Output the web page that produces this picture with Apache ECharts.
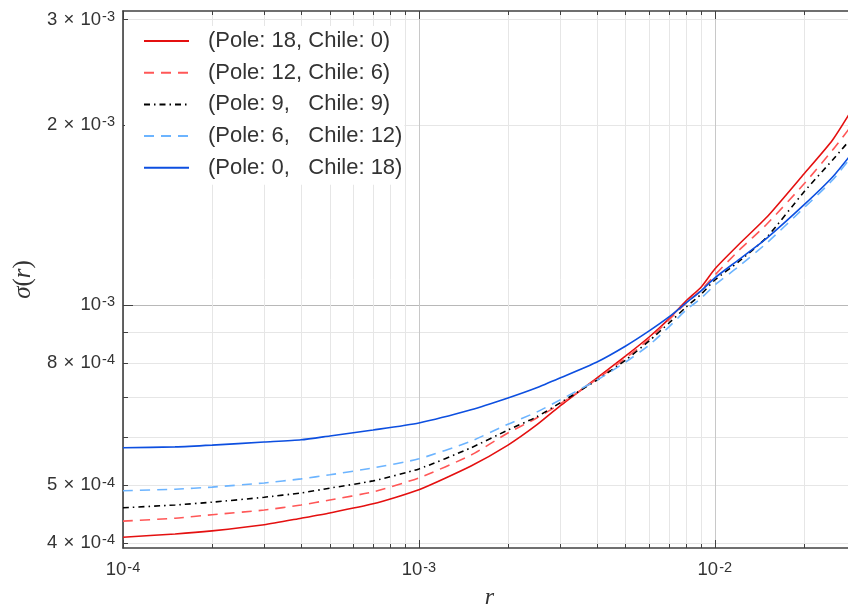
<!DOCTYPE html>
<html><head><meta charset="utf-8">
<script src="https://cdn.jsdelivr.net/npm/echarts@6/dist/echarts.min.js"></script>
<style>html,body{margin:0;padding:0;background:#fff}#c{width:848px;height:608px}</style>
</head><body><div id="c"></div>
<script>
// ---- data ----
const rValues = [1e-4, 1.5e-4, 2e-4, 3e-4, 4e-4, 5e-4, 7e-4, 1e-3, 1.5e-3, 2e-3, 2.5e-3, 3e-3,
  4e-3, 5e-3, 6e-3, 7e-3, 8e-3, 9e-3, 1e-2, 1.2e-2, 1.5e-2, 2e-2, 2.5e-2, 3e-2];
const sigmaPole18 = [4.09e-4, 4.14e-4, 4.19e-4, 4.29e-4, 4.40e-4, 4.49e-4, 4.65e-4, 4.91e-4, 5.38e-4, 5.83e-4, 6.30e-4, 6.78e-4,
  7.55e-4, 8.22e-4, 8.84e-4, 9.48e-4, 1.016e-3, 1.072e-3, 1.149e-3, 1.260e-3, 1.403e-3, 1.656e-3, 1.888e-3, 2.177e-3];
const sigmaPole12 = [4.35e-4, 4.40e-4, 4.46e-4, 4.54e-4, 4.63e-4, 4.72e-4, 4.87e-4, 5.14e-4, 5.61e-4, 6.11e-4, 6.47e-4, 6.83e-4,
  7.52e-4, 8.15e-4, 8.77e-4, 9.44e-4, 1.008e-3, 1.059e-3, 1.122e-3, 1.231e-3, 1.366e-3, 1.593e-3, 1.816e-3, 2.039e-3];
const sigmaPole9 = [4.58e-4, 4.63e-4, 4.68e-4, 4.77e-4, 4.85e-4, 4.94e-4, 5.08e-4, 5.32e-4, 5.77e-4, 6.18e-4, 6.50e-4, 6.86e-4,
  7.49e-4, 8.09e-4, 8.71e-4, 9.33e-4, 9.92e-4, 1.043e-3, 1.101e-3, 1.180e-3, 1.299e-3, 1.545e-3, 1.748e-3, 1.939e-3];
const sigmaPole6 = [4.89e-4, 4.92e-4, 4.96e-4, 5.04e-4, 5.12e-4, 5.20e-4, 5.34e-4, 5.53e-4, 5.92e-4, 6.32e-4, 6.62e-4, 6.94e-4,
  7.49e-4, 8.03e-4, 8.57e-4, 9.19e-4, 9.81e-4, 1.027e-3, 1.080e-3, 1.158e-3, 1.270e-3, 1.453e-3, 1.618e-3, 1.809e-3];
const sigmaPole0 = [5.77e-4, 5.79e-4, 5.83e-4, 5.90e-4, 5.95e-4, 6.04e-4, 6.18e-4, 6.35e-4, 6.68e-4, 6.99e-4, 7.27e-4, 7.55e-4,
  8.03e-4, 8.54e-4, 9.05e-4, 9.55e-4, 1.008e-3, 1.057e-3, 1.110e-3, 1.189e-3, 1.294e-3, 1.470e-3, 1.637e-3, 1.830e-3];
const seriesNames = ['(Pole: 18, Chile: 0)', '(Pole: 12, Chile: 6)', '(Pole: 9,   Chile: 9)', '(Pole: 6,   Chile: 12)', '(Pole: 0,   Chile: 18)'];

// ---- ticks ----
const xTickMinor = [1e-4, 2e-4, 3e-4, 4e-4, 5e-4, 6e-4, 7e-4, 8e-4, 9e-4, 1e-3, 2e-3, 3e-3, 4e-3, 5e-3, 6e-3, 7e-3, 8e-3, 9e-3, 1e-2, 2e-2, 3e-2];
const xTickMajor = [1e-4, 1e-3, 1e-2];
const xLabelValues = [1e-4, 1e-3, 1e-2];
const xLabelMantissa = ['10', '10', '10'];
const xLabelExp = ['-4', '-3', '-2'];
const yTickMinor = [4e-4, 5e-4, 6e-4, 7e-4, 8e-4, 9e-4, 1e-3, 2e-3, 3e-3];
const yTickMajor = [1e-3];
const yLabelValues = [4e-4, 5e-4, 8e-4, 1e-3, 2e-3, 3e-3];
const yLabelMantissa = ['4\u2004\u00d7\u200410', '5\u2004\u00d7\u200410', '8\u2004\u00d7\u200410', '10', '2\u2004\u00d7\u200410', '3\u2004\u00d7\u200410'];
const yLabelExp = ['-4', '-4', '-4', '-3', '-3', '-3'];

const FONT = 'Liberation Sans';
const SERIF = 'Liberation Serif';
const AXC = '#404040';

function labelFmt(values, mant, exps) {
  return function (v) {
    let best = 0, bd = Infinity;
    values.forEach((t, i) => { const d = Math.abs(Math.log10(v) - Math.log10(t)); if (d < bd) { bd = d; best = i; } });
    return '{a|' + mant[best] + '}{b|' + exps[best] + '}';
  };
}
const labelRich = {
  a: { fontFamily: FONT, fontSize: 18.5, color: '#333', lineHeight: 20 },
  b: { fontFamily: FONT, fontSize: 14.5, color: '#333', verticalAlign: 'top', lineHeight: 13, padding: [0, 0, 0, 1] }
};

const xMin = 1e-4, xMax = 3e-2, yMin = 3.923e-4, yMax = 3.102e-3;
function xAx(pos, ticks, len, opts) {
  return Object.assign({
    type: 'log', logBase: 10, min: xMin, max: xMax, position: pos,
    axisLine: { show: false, onZero: false },
    axisTick: { show: true, inside: true, length: len, customValues: ticks, lineStyle: { color: AXC, width: 1 } },
    axisLabel: { show: false },
    splitLine: { show: false },
    minorTick: { show: false }, minorSplitLine: { show: false }
  }, opts || {});
}
function yAx(pos, ticks, len, opts) {
  return Object.assign({
    type: 'log', logBase: 10, min: yMin, max: yMax, position: pos,
    axisLine: { show: false, onZero: false },
    axisTick: { show: true, inside: true, length: len, customValues: ticks, lineStyle: { color: AXC, width: 1 } },
    axisLabel: { show: false },
    splitLine: { show: false },
    minorTick: { show: false }, minorSplitLine: { show: false }
  }, opts || {});
}

const chart = echarts.init(document.getElementById('c'), null, { renderer: 'canvas' });
const colors = ['#e41010', '#ff5757', '#000000', '#6cb4ff', '#0d4fe0'];
const dashes = ['solid', [10, 7], [6, 4, 1.5, 4], [10, 7], 'solid'];
const dataSets = [sigmaPole18, sigmaPole12, sigmaPole9, sigmaPole6, sigmaPole0];

chart.setOption({
  animation: false,
  backgroundColor: '#fff',
  grid: { left: 123, top: 11, right: -8, bottom: 60, outerBoundsMode: 'none' },
  xAxis: [
    xAx('bottom', xTickMinor, 4, {
      axisLine: { show: true, onZero: false, lineStyle: { color: AXC, width: 1.6 } },
      axisLabel: { show: true, customValues: xLabelValues, margin: 12, formatter: labelFmt(xLabelValues, xLabelMantissa, xLabelExp), rich: labelRich },
      splitLine: { show: true, lineStyle: { color: '#e6e6e6', width: 1 } },
      name: '{i|r}', nameLocation: 'middle', nameGap: 38,
      nameTextStyle: { rich: { i: { fontFamily: SERIF, fontStyle: 'italic', fontSize: 24, color: '#333' } } }
    }),
    xAx('bottom', xTickMajor, 8, { splitLine: { show: true, lineStyle: { color: '#c8c8c8', width: 1 } } }),
    xAx('top', xTickMinor, 4, { axisLine: { show: true, onZero: false, lineStyle: { color: AXC, width: 1.6 } } }),
    xAx('top', xTickMajor, 8)
  ],
  yAxis: [
    yAx('left', yTickMinor, 5, {
      axisLine: { show: true, onZero: false, lineStyle: { color: AXC, width: 1.6 } },
      axisLabel: { show: true, customValues: yLabelValues, margin: 8, formatter: labelFmt(yLabelValues, yLabelMantissa, yLabelExp), rich: labelRich },
      splitLine: { show: true, lineStyle: { color: '#e6e6e6', width: 1 } },
      name: '{i|\u03c3}{n|(}{i|r}{n|)}', nameLocation: 'middle', nameGap: 86, nameRotate: 90,
      nameTextStyle: { rich: {
        i: { fontFamily: SERIF, fontStyle: 'italic', fontSize: 25, color: '#333' },
        n: { fontFamily: SERIF, fontSize: 25, color: '#333' } } }
    }),
    yAx('left', yTickMajor, 10, { splitLine: { show: true, lineStyle: { color: '#b8b8b8', width: 1 } } })
  ],
  legend: {
    orient: 'vertical', left: 125, top: 26, backgroundColor: '#fff',
    padding: [4, 2, 6, 18], itemWidth: 45, itemHeight: 14, itemGap: 9.7,
    itemStyle: { opacity: 0 },
    textStyle: { fontFamily: FONT, fontSize: 22, color: '#333', lineHeight: 22, padding: [0, 0, 0, 14] },
    data: seriesNames
  },
  series: dataSets.map((d, i) => ({
    name: seriesNames[i], type: 'line', xAxisIndex: 0, yAxisIndex: 0,
    data: rValues.map((r, j) => [r, d[j]]),
    showSymbol: false, symbol: 'none', smooth: 0.2,
    lineStyle: { color: colors[i], width: 1.6, type: dashes[i] },
    itemStyle: { color: colors[i], opacity: 0 },
    z: 3 + i
  }))
});
</script>
</body></html>
